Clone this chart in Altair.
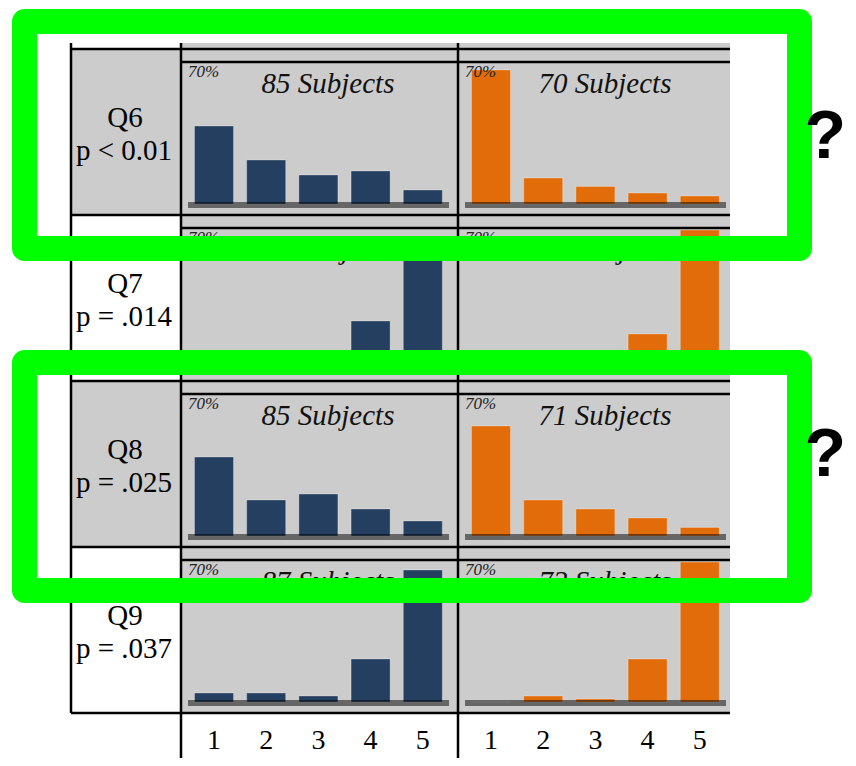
import altair as alt
import pandas as pd

# ---------------- data ----------------
questions = ["Q6", "Q7", "Q8", "Q9"]
p_labels = ["p < 0.01", "p = .014", "p = .025", "p = .037"]
answers = [1, 2, 3, 4, 5]
subjects_blue = [85, 86, 85, 87]
subjects_orange = [70, 70, 71, 72]
pct_blue = {
    "Q6": [39, 22, 14.5, 16.5, 7],
    "Q7": [5, 4, 5, 24.5, 62],
    "Q8": [39.5, 18, 21, 13.5, 7.5],
    "Q9": [4.5, 4.5, 3, 21.5, 66],
}
pct_orange = {
    "Q6": [67, 13, 8.8, 5.5, 4],
    "Q7": [2, 2, 2, 18, 76],
    "Q8": [55, 18, 13.5, 9, 4.3],
    "Q9": [0, 3, 1.5, 21.5, 74],
}
max_pct = 70
highlighted = ["Q6", "Q8"]

# ---------------- layout (pixel space of the page) ----------------
X_LEFT = 71
PANEL_LEFT = [181, 458]
X_RIGHT = 730
ROW_TOP0 = 49
ROW_H = 166
PANEL_TOP = 43
PX_PER_PCT = 2.0
BASE_OFF = 155
BAR_OFF = 33
BAR_PITCH = 52.2
BAR_W = 39
COLORS = ["#243f60", "#e36c0a"]
GRAY = "#cccccc"
SERIF = "Liberation Serif"

rows = []
for qi, q in enumerate(questions):
    top = ROW_TOP0 + qi * ROW_H
    base = top + BASE_OFF
    for gi, vals in enumerate([pct_blue[q], pct_orange[q]]):
        for ai, a in enumerate(answers):
            v = min(vals[ai], max_pct)
            cx = PANEL_LEFT[gi] + BAR_OFF + ai * BAR_PITCH
            rows.append(dict(q=q, group=gi, answer=a, pct=vals[ai],
                             x=cx - BAR_W / 2, x2=cx + BAR_W / 2,
                             y=base - v * PX_PER_PCT, y2=base))
bars = pd.DataFrame(rows)

xs = alt.Scale(domain=[8, 848], nice=False, zero=False)
ys = alt.Scale(domain=[8, 758], nice=False, zero=False, reverse=True)


def X(f="x"):
    return alt.X(f"{f}:Q", scale=xs, axis=None)


def Y(f="y"):
    return alt.Y(f"{f}:Q", scale=ys, axis=None)


# backgrounds
bg = pd.DataFrame(
    [dict(x=PANEL_LEFT[0], x2=X_RIGHT, y=PANEL_TOP, y2=ROW_TOP0 + 4 * ROW_H)]
    + [dict(x=X_LEFT, x2=PANEL_LEFT[0], y=ROW_TOP0 + questions.index(q) * ROW_H,
            y2=ROW_TOP0 + (questions.index(q) + 1) * ROW_H) for q in highlighted]
)
bg_layer = alt.Chart(bg).mark_rect(color=GRAY).encode(
    x=X(), x2="x2:Q", y=Y(), y2="y2:Q")

bar_layer = alt.Chart(bars).mark_rect(strokeWidth=0.8, strokeOpacity=0.35, stroke="#ffffff").encode(
    x=X(), x2="x2:Q", y=Y(), y2="y2:Q",
    color=alt.Color("group:N", scale=alt.Scale(domain=[0, 1], range=COLORS), legend=None),
)

# baseline bands
band = pd.DataFrame([
    dict(x=PANEL_LEFT[gi] + 7, x2=PANEL_LEFT[gi] + 268,
         y=ROW_TOP0 + qi * ROW_H + BASE_OFF - 2, y2=ROW_TOP0 + qi * ROW_H + BASE_OFF + 4)
    for qi in range(len(questions)) for gi in range(2)
])
band_layer = alt.Chart(band).mark_rect(color="#000000", opacity=0.5).encode(
    x=X(), x2="x2:Q", y=Y(), y2="y2:Q")

# grid lines
lines = []
for i in range(len(questions) + 1):
    t = ROW_TOP0 + i * ROW_H
    lines.append(dict(x=X_LEFT, x2=X_RIGHT, y=t, y2=t))
for i in range(len(questions)):
    t = ROW_TOP0 + i * ROW_H + 13
    lines.append(dict(x=PANEL_LEFT[0], x2=X_RIGHT, y=t, y2=t))
lines.append(dict(x=X_LEFT, x2=X_LEFT, y=PANEL_TOP, y2=ROW_TOP0 + 4 * ROW_H))
for px in PANEL_LEFT:
    lines.append(dict(x=px, x2=px, y=PANEL_TOP, y2=758))
line_layer = alt.Chart(pd.DataFrame(lines)).mark_rule(color="#000000", strokeWidth=2.5).encode(
    x=X(), x2="x2:Q", y=Y(), y2="y2:Q")

# texts
pct_lbl = pd.DataFrame([
    dict(x=PANEL_LEFT[gi] + 7, y=ROW_TOP0 + qi * ROW_H + 28, t=f"{max_pct}%")
    for qi in range(len(questions)) for gi in range(2)
])
pct_layer = alt.Chart(pct_lbl).mark_text(
    font=SERIF, fontStyle="italic", fontSize=17, color="#222222", align="left", baseline="alphabetic"
).encode(x=X(), y=Y(), text="t:N")

subj = pd.DataFrame([
    dict(x=PANEL_LEFT[gi] + 147, y=ROW_TOP0 + qi * ROW_H + 44,
         t=f"{[subjects_blue, subjects_orange][gi][qi]} Subjects")
    for qi in range(len(questions)) for gi in range(2)
])
subj_layer = alt.Chart(subj).mark_text(
    font=SERIF, fontStyle="italic", fontSize=29, color="#111111", align="center", baseline="alphabetic"
).encode(x=X(), y=Y(), text="t:N")

qlab = pd.DataFrame(
    [dict(x=125, y=ROW_TOP0 + qi * ROW_H + 78, t=q) for qi, q in enumerate(questions)]
    + [dict(x=124, y=ROW_TOP0 + qi * ROW_H + 111, t=p) for qi, p in enumerate(p_labels)]
)
qlab_layer = alt.Chart(qlab).mark_text(
    font=SERIF, fontSize=29, color="#000000", align="center", baseline="alphabetic"
).encode(x=X(), y=Y(), text="t:N")

ax = pd.DataFrame([
    dict(x=PANEL_LEFT[gi] + BAR_OFF + ai * BAR_PITCH, y=749, t=str(a))
    for gi in range(2) for ai, a in enumerate(answers)
])
ax_layer = alt.Chart(ax).mark_text(
    font=SERIF, fontSize=28, color="#000000", align="center", baseline="alphabetic"
).encode(x=X(), y=Y(), text="t:N")

# green highlight boxes and question marks
boxes = pd.DataFrame([
    dict(x=24.5, x2=799.5, y=21.5, y2=248.5),
    dict(x=24.5, x2=799.5, y=362.5, y2=590.5),
])
box_layer = alt.Chart(boxes).mark_rect(
    filled=False, stroke="#00ff00", strokeWidth=25, strokeJoin="round"
).encode(x=X(), x2="x2:Q", y=Y(), y2="y2:Q")

qm = pd.DataFrame([dict(x=846, y=158, t="?"), dict(x=846, y=476, t="?")])
qm_layer = alt.Chart(qm).mark_text(
    font="Liberation Sans", fontWeight="bold", fontSize=68, color="#000000",
    align="right", baseline="alphabetic"
).encode(x=X(), y=Y(), text="t:N")

chart = alt.layer(
    bg_layer, bar_layer, band_layer, line_layer, pct_layer, subj_layer,
    qlab_layer, ax_layer, box_layer, qm_layer
).properties(
    width=840, height=750, padding=0, autosize=alt.AutoSizeParams(type="none"),
    background="#ffffff"
).configure_view(stroke=None)

chart.save("out.html", embed_options={"renderer": "svg", "actions": False})
